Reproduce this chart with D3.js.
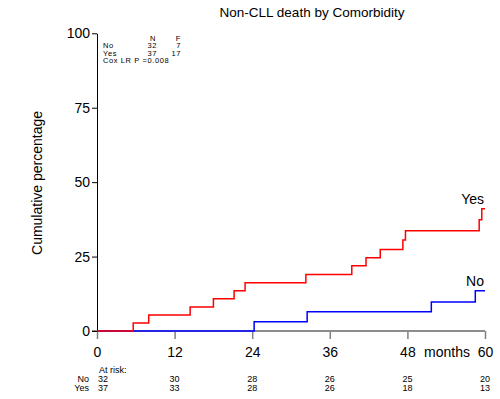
<!DOCTYPE html>
<html>
<head>
<meta charset="utf-8">
<script src="https://cdn.jsdelivr.net/npm/d3@7"></script>
<style>
  body { margin: 0; background: #fff; }
  svg { display: block; font-family: "Liberation Sans", Arial, sans-serif; }
</style>
</head>
<body>
<div id="chart"></div>
<script>
// cumulative incidence step curves (months, percent)
const yesTimes = [0, 5.6, 8.0, 14.4, 18.0, 21.2, 22.9, 32.3, 39.4, 41.6, 43.8, 47.3, 47.7, 59.1, 59.5, 60];
const yesPct   = [0, 2.7, 5.4, 8.1, 10.8, 13.5, 16.2, 19.0, 21.9, 24.6, 27.4, 30.6, 33.7, 37.4, 41.1, 41.1];
const noTimes  = [0, 24.3, 32.5, 51.7, 58.5, 60];
const noPct    = [0, 3.1, 6.5, 9.7, 13.5, 13.5];

const xTicks = [0, 12, 24, 36, 48, 60];
const yTicks = [0, 25, 50, 75, 100];
const groups = ["No", "Yes"];
const groupN = [32, 37];
const groupF = [7, 17];
const atRiskNo  = [32, 30, 28, 26, 25, 20];
const atRiskYes = [37, 33, 28, 26, 18, 13];

const width = 500, height = 399;

const svg = d3.select("#chart").append("svg")
  .attr("width", width)
  .attr("height", height);

const x = d3.scaleLinear().domain([0, 60]).range([97, 485]);
const y = d3.scaleLinear().domain([0, 100]).range([331, 33.3]);

// title
svg.append("text")
  .attr("x", 312).attr("y", 17)
  .attr("text-anchor", "middle")
  .style("font-size", "13.5px")
  .text("Non-CLL death by Comorbidity");

// y axis label
svg.append("text")
  .attr("transform", "translate(42,183) rotate(-90)")
  .attr("text-anchor", "middle")
  .style("font-size", "14px")
  .text("Cumulative percentage");

// x axis (grey)
const xAxis = svg.append("g")
  .attr("transform", "translate(0,331)")
  .call(d3.axisBottom(x).tickValues(xTicks).tickSize(8).tickSizeOuter(0).tickFormat(d3.format("d")));
xAxis.select(".domain").remove();
xAxis.selectAll(".tick line").attr("stroke", "#808080").attr("stroke-width", 1.5);
xAxis.selectAll(".tick text")
  .attr("y", 26).attr("dy", 0)
  .attr("fill", "#000")
  .style("font-size", "14px")
  .style("font-family", "Liberation Sans, Arial, sans-serif");
svg.append("line")
  .attr("x1", 92).attr("x2", x(60))
  .attr("y1", y(0)).attr("y2", y(0))
  .attr("stroke", "#8c8c8c").attr("stroke-width", 2);

svg.append("text")
  .attr("x", 447).attr("y", 357)
  .attr("text-anchor", "middle")
  .style("font-size", "14px")
  .text("months");

// y axis (black)
const yAxis = svg.append("g")
  .attr("transform", "translate(97,0)")
  .call(d3.axisLeft(y).tickValues(yTicks).tickSize(5).tickSizeOuter(0));
yAxis.select(".domain").attr("stroke", "#000");
yAxis.selectAll(".tick text")
  .attr("x", -7)
  .attr("fill", "#000")
  .style("font-size", "14px")
  .style("font-family", "Liberation Sans, Arial, sans-serif");

// curves
const line = d3.line()
  .x(d => x(d[0]))
  .y(d => y(d[1]))
  .curve(d3.curveStepAfter);

svg.append("path")
  .datum(d3.zip(noTimes, noPct))
  .attr("d", line)
  .attr("fill", "none")
  .attr("stroke", "#0000ff")
  .attr("stroke-width", 1.5);

svg.append("path")
  .datum(d3.zip(yesTimes, yesPct))
  .attr("d", line)
  .attr("fill", "none")
  .attr("stroke", "#ff0000")
  .attr("stroke-width", 1.5);

// curve labels
svg.append("text")
  .attr("x", x(60) - 1).attr("y", y(yesPct[yesPct.length - 1]) - 5)
  .attr("text-anchor", "end")
  .style("font-size", "14px")
  .text("Yes");
svg.append("text")
  .attr("x", x(60) - 1).attr("y", y(noPct[noPct.length - 1]) - 5)
  .attr("text-anchor", "end")
  .style("font-size", "14px")
  .text("No");

// legend table
const leg = svg.append("g").style("font-size", "7.5px").style("letter-spacing", "0.6px");
leg.append("text").attr("x", 156).attr("y", 40.5).attr("text-anchor", "end").text("N");
leg.append("text").attr("x", 181).attr("y", 40.5).attr("text-anchor", "end").text("F");
groups.forEach((g, i) => {
  const yy = 48 + i * 7.5;
  leg.append("text").attr("x", 103).attr("y", yy).text(g);
  leg.append("text").attr("x", 157).attr("y", yy).attr("text-anchor", "end").text(groupN[i]);
  leg.append("text").attr("x", 181).attr("y", yy).attr("text-anchor", "end").text(groupF[i]);
});
leg.append("text").attr("x", 103).attr("y", 63).text("Cox LR P =0.008");

// at risk table
const risk = svg.append("g").style("font-size", "9px");
risk.append("text").attr("x", 99).attr("y", 373).text("At risk:");
[atRiskNo, atRiskYes].forEach((row, r) => {
  const yy = 382 + r * 8.7;
  risk.append("text").attr("x", 89).attr("y", yy).attr("text-anchor", "end").text(groups[r]);
  row.forEach((v, i) => {
    risk.append("text")
      .attr("x", i === 0 ? x(xTicks[i]) + 1 : x(xTicks[i]))
      .attr("y", yy)
      .attr("text-anchor", i === 0 ? "start" : "middle")
      .text(v);
  });
});
</script>
</body>
</html>
